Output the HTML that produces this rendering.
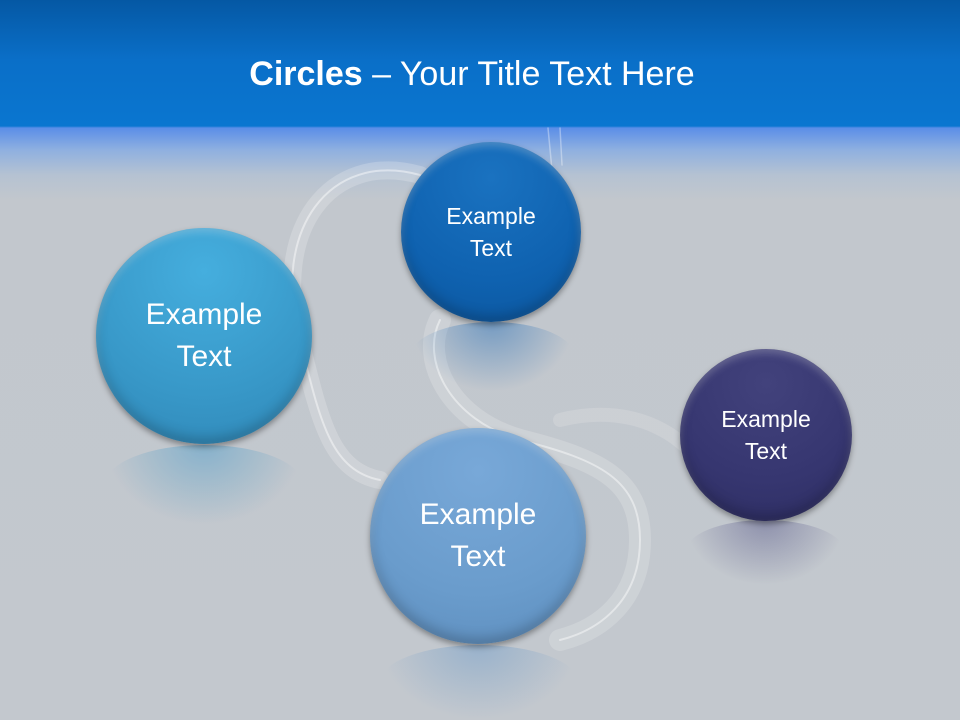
<!DOCTYPE html>
<html><head><meta charset="utf-8"><style>
html,body{margin:0;padding:0;width:960px;height:720px;overflow:hidden}
html{background:#c3c8ce}
body{position:relative;font-family:"Liberation Sans",sans-serif;
background:linear-gradient(to bottom,#0558a4 0px,#0a6fc8 60px,#0a76d0 126px,#5b8ee8 128px,#8fb0e0 150px,#b5c2d2 175px,#c2c7cd 200px,#c3c8ce 720px) no-repeat;background-size:960px 720px}
.t{position:absolute;top:55px;left:0;width:944px;text-align:center;color:#fff;font-size:34px}
.c{position:absolute;border-radius:50%;color:#fff;display:flex;align-items:center;justify-content:center;text-align:center;line-height:1.4;box-shadow:0 3px 6px rgba(0,0,0,.35), inset 0 -6px 12px rgba(0,0,0,.2), inset 0 4px 8px rgba(255,255,255,.25)}
.r{position:absolute;border-radius:50%;}
</style></head><body>
<div class="t"><b>Circles</b> – Your Title Text Here</div>
<svg width="960" height="720" style="position:absolute;left:0;top:0">
<g fill="none" stroke="#fff" stroke-linecap="round">
<path d="M420 175 C330 150 270 230 300 340 C320 420 330 470 380 480" stroke-width="18" stroke-opacity=".2"/>
<path d="M420 175 C330 150 270 230 300 340 C320 420 330 470 380 480" stroke-width="2" stroke-opacity=".45"/>
<path d="M440 320 C420 360 450 420 520 440 C600 460 640 480 640 540 C640 600 600 630 560 640" stroke-width="22" stroke-opacity=".18"/>
<path d="M440 320 C420 360 450 420 520 440 C600 460 640 480 640 540 C640 600 600 630 560 640" stroke-width="2" stroke-opacity=".45"/>
<path d="M560 420 C640 400 700 440 720 500" stroke-width="14" stroke-opacity=".15"/>
<path d="M548 128 L552 170 M560 128 L562 165" stroke-width="1.5" stroke-opacity=".35"/>
</g>
</svg>
<div class="r" style="left:105px;top:445px;width:198px;height:80px;background:radial-gradient(ellipse at 50% 0%,rgba(60,150,200,.45),rgba(195,200,206,0) 70%)"></div>
<div class="r" style="left:410px;top:322px;width:165px;height:70px;background:radial-gradient(ellipse at 50% 0%,rgba(20,100,180,.45),rgba(195,200,206,0) 70%)"></div>
<div class="r" style="left:380px;top:645px;width:198px;height:75px;background:radial-gradient(ellipse at 50% 0%,rgba(100,150,200,.45),rgba(195,200,206,0) 70%)"></div>
<div class="r" style="left:685px;top:520px;width:160px;height:65px;background:radial-gradient(ellipse at 50% 0%,rgba(60,60,120,.4),rgba(195,200,206,0) 70%)"></div>
<div class="c" style="left:96px;top:228px;width:216px;height:216px;background:radial-gradient(circle at 50% 20%,#45aede,#3898c8 60%,#2f86b6);font-size:30px">Example<br>Text</div>
<div class="c" style="left:401px;top:142px;width:180px;height:180px;background:radial-gradient(circle at 50% 20%,#1a72c0,#0f62b0 60%,#0c559c);font-size:23px">Example<br>Text</div>
<div class="c" style="left:370px;top:428px;width:216px;height:216px;background:radial-gradient(circle at 50% 20%,#78a8d8,#6a9ccc 60%,#5c8cbc);font-size:30px">Example<br>Text</div>
<div class="c" style="left:680px;top:349px;width:172px;height:172px;background:radial-gradient(circle at 50% 20%,#42427c,#363670 60%,#2c2c60);font-size:23px">Example<br>Text</div>
</body></html>
